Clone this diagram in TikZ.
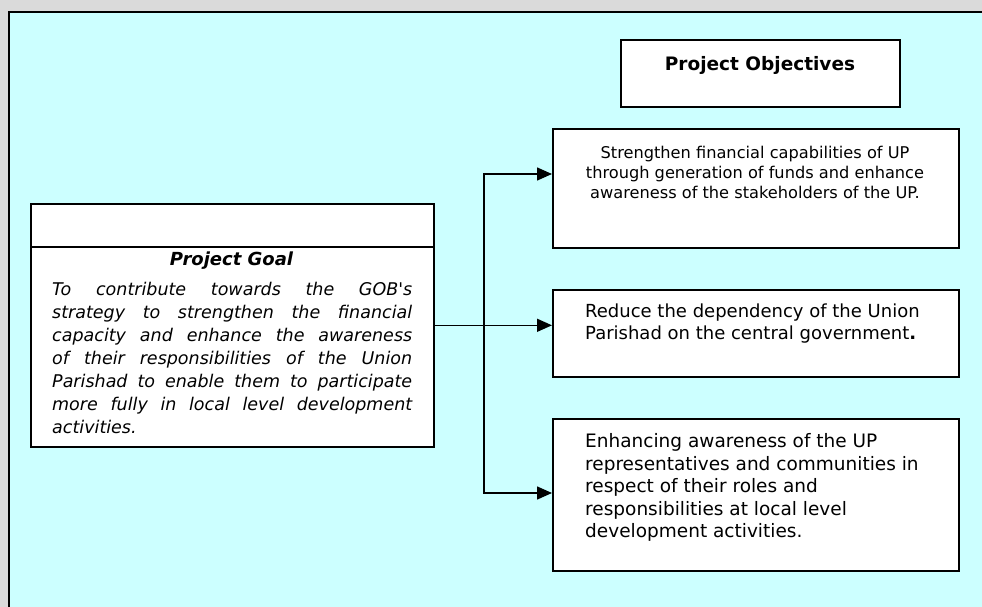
\documentclass[tikz,border=0pt]{standalone}
\usepackage{fontspec}
\setmainfont{DejaVu Sans}
\usetikzlibrary{positioning, arrows.meta}
\definecolor{panelcyan}{RGB}{204,255,255}
\definecolor{framegray}{RGB}{218,218,218}

\begin{document}
\begin{tikzpicture}[x=1pt, y=-1pt,
  box/.style={draw, line width=1.6pt, fill=white, anchor=north west, inner sep=0pt, minimum width=406pt},
  objtext/.style={anchor=north west, align=left, inner sep=0pt, font=\fontsize{18}{22}\selectfont},
  arr/.style={line width=1.5pt, -{Triangle[length=15pt, width=13pt]}}]
  \useasboundingbox (0,0) rectangle (982,607);
  \fill[framegray] (0,0) rectangle (982,607);
  \fill[panelcyan] (9,12) rectangle (982,607);
  \draw[line width=1.6pt] (9,607) -- (9,12) -- (982,12);

  % goal
  \node[box, minimum width=403pt, minimum height=243pt] (goal) at (30,203) {};
  \draw[line width=1.6pt] ([yshift=-44pt]goal.north west) -- ([yshift=-44pt]goal.north east);
  \node[anchor=base, inner sep=0pt, font=\bfseries\itshape\fontsize{18}{22}\selectfont] (goaltitle) at (231.5,265.5) {Project Goal};
  \node[anchor=north west, inner sep=0pt, text width=360pt, align=justify, font=\itshape\fontsize{17.5}{23}\selectfont] (goaltext) at (52,282)
    {To contribute towards the GOB\textquotesingle s\linebreak strategy to strengthen the financial\linebreak capacity and enhance the awareness\linebreak of their responsibilities of the Union\linebreak Parishad to enable them to participate\linebreak more fully in local level development\linebreak activities.};

  % objectives
  \node[box, minimum width=279pt, minimum height=67pt] (objhead) at (620,39) {};
  \node[font=\bfseries\fontsize{18.5}{22}\selectfont] (objtitle) at (760,65) {Project Objectives};

  \node[box, minimum height=119pt] (obj1) at (552,128) {};
  \node[anchor=north, align=center, inner sep=0pt, font=\fontsize{16.2}{20}\selectfont] (obj1text) at (755,146)
    {Strengthen financial capabilities of UP\\ through generation of funds and enhance\\ awareness of the stakeholders of the UP.};

  \node[box, minimum height=87pt] (obj2) at (552,289) {};
  \node[objtext] (obj2text) at (585,304) {Reduce the dependency of the Union\\ Parishad on the central government{\bfseries .}};

  \node[box, minimum height=152pt] (obj3) at (552,418) {};
  \node[objtext, font=\fontsize{18.5}{22.5}\selectfont] (obj3text) at (585,433.5)
    {Enhancing awareness of the UP\\ representatives and communities in\\ respect of their roles and\\ responsibilities at local level\\ development activities.};

  % links
  \coordinate (split) at (484,324);
  \draw[arr] (goal.east) -- (goal.east -| obj2.west);
  \draw[arr] (split) |- ([yshift=-46pt]obj1.north west);
  \draw[arr] (split) |- ([yshift=-75pt]obj3.north west);
\end{tikzpicture}
\end{document}
